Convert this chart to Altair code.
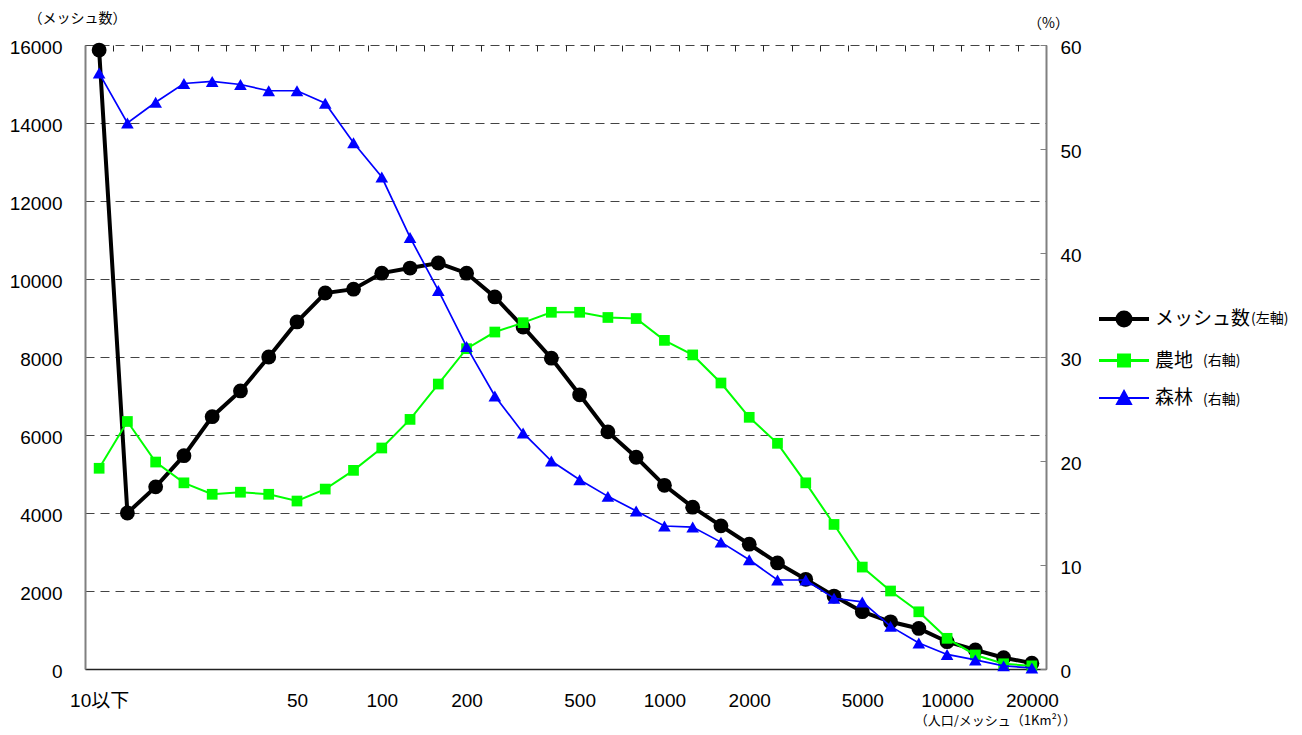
import altair as alt
import pandas as pd

# x categories (population per mesh), tick labels shown only at some categories
LABELS = ["10以下", "", "", "", "", "", "", "50", "", "", "100", "", "", "200", "", "", "",
          "500", "", "", "1000", "", "", "2000", "", "", "", "5000", "", "", "10000", "", "", "20000"]

# メッシュ数 (left axis)
MESH = [15870, 4000, 4670, 5470, 6470, 7130, 8000, 8900, 9640, 9740, 10150, 10280, 10410, 10150,
        9540, 8770, 7970, 7030, 6080, 5430, 4710, 4150, 3670, 3200, 2720, 2300, 1870, 1470,
        1210, 1040, 700, 490, 290, 150]
# 農地 (right axis, %)
FARM = [19.3, 23.8, 19.9, 17.9, 16.8, 17.0, 16.8, 16.15, 17.3, 19.1, 21.25, 24.0, 27.4, 30.8,
        32.4, 33.3, 34.3, 34.3, 33.8, 33.7, 31.6, 30.2, 27.5, 24.2, 21.7, 17.9, 13.9, 9.8,
        7.5, 5.5, 2.95, 1.35, 0.5, 0.3]
# 森林 (right axis, %)
FOREST = [57.3, 52.5, 54.5, 56.3, 56.5, 56.2, 55.6, 55.6, 54.4, 50.6, 47.3, 41.5, 36.4, 31.0,
          26.25, 22.7, 20.0, 18.2, 16.6, 15.2, 13.75, 13.65, 12.2, 10.5, 8.56, 8.56, 6.8, 6.45,
          4.1, 2.5, 1.4, 0.87, 0.3, 0.1]

SERIES = ["メッシュ数", "農地", "森林"]
NOTES = ["(左軸)", "(右軸)", "(右軸)"]
KEYS = ["k0", "k1", "k2"]
COLORS = ["#000000", "#00ff00", "#0000ff"]
LEFT_TICKS = [0, 2000, 4000, 6000, 8000, 10000, 12000, 14000, 16000]
RIGHT_TICKS = [0, 10, 20, 30, 40, 50, 60]

n = len(LABELS)
idx = list(range(n))
df_mesh = pd.DataFrame({"i": idx, "v": MESH})
df_farm = pd.DataFrame({"i": idx, "v": FARM})
df_forest = pd.DataFrame({"i": idx, "v": FOREST})
legend_df = pd.DataFrame({"s": SERIES, "k": KEYS})

W, H = 961, 624
NUM_FONT = "Liberation Sans, Arial, Noto Sans CJK JP, sans-serif"
JP_FONT = "Noto Sans CJK JP, sans-serif"
NUM_SIZE = 19

label_arr = "[" + ",".join("'" + s + "'" for s in LABELS) + "]"
x_dom = [-0.5, n - 0.5]
x_scale = alt.Scale(domain=x_dom, nice=False, zero=False)

x_main = alt.X(
    "i:Q", scale=x_scale,
    axis=alt.Axis(values=idx, labelExpr=label_arr + "[datum.value]", ticks=False, tickSize=0,
                  grid=False, domainColor="#222", domainWidth=1.5, labelFont=NUM_FONT,
                  labelFontSize=NUM_SIZE, labelColor="#000", labelPadding=22, labelOverlap=False,
                  labelFlush=False, labelBound=False,
                  title="（人口/メッシュ（1Km²））", titleX=910, titleY=51, titleAlign="center",
                  titleBaseline="middle", titleFont=JP_FONT, titleFontSize=13,
                  titleFontWeight="normal", titleColor="#000"))
x_ticks = alt.X(
    "i:Q", scale=x_scale,
    axis=alt.Axis(values=[k - 0.5 for k in range(n + 1)], labels=False, domain=False, grid=False,
                  ticks=True, tickSize=6, tickColor="#222", tickWidth=1, offset=-6, title=None))
x_none = alt.X("i:Q", scale=x_scale, axis=None)

y_left = alt.Y(
    "v:Q", scale=alt.Scale(domain=[0, 16000], nice=False),
    axis=alt.Axis(values=LEFT_TICKS, format="d", grid=True, gridDash=[9, 6], gridColor="#444",
                  gridWidth=1, domainColor="#808080", domainWidth=2, ticks=False, tickSize=0,
                  labelPadding=23, labelFont=NUM_FONT, labelFontSize=NUM_SIZE, labelColor="#000",
                  labelOffset=2,
                  title="（メッシュ数）", titleAngle=0, titleX=-8, titleY=-27, titleAlign="center",
                  titleBaseline="middle", titleFont=JP_FONT, titleFontSize=14,
                  titleFontWeight="normal", titleColor="#000"))
y_right = alt.Y(
    "v:Q", scale=alt.Scale(domain=[0, 60], nice=False),
    axis=alt.Axis(orient="right", values=RIGHT_TICKS, grid=False, domainColor="#808080",
                  domainWidth=2, ticks=False, tickSize=0, labelPadding=14, labelFont=NUM_FONT,
                  labelFontSize=NUM_SIZE, labelColor="#000", labelOffset=2,
                  title="（%）", titleAngle=0, titleX=2, titleY=-22, titleAlign="center",
                  titleBaseline="middle", titleFont=JP_FONT, titleFontSize=14,
                  titleFontWeight="normal", titleColor="#000"))
y_right_ticks = alt.Y(
    "v:Q", scale=alt.Scale(domain=[0, 60], nice=False),
    axis=alt.Axis(orient="right", values=RIGHT_TICKS, grid=False, domain=False, labels=False,
                  ticks=True, tickSize=6, tickColor="#808080", tickWidth=1, offset=-6, title=None))

mesh = alt.Chart(df_mesh).mark_line(
    color="#000000", strokeWidth=4,
    point=alt.OverlayMarkDef(filled=True, color="#000000", size=220, shape="circle", opacity=1)
).encode(x=x_main, y=y_left)

farm = alt.Chart(df_farm).mark_line(
    color="#00ff00", strokeWidth=2,
    point=alt.OverlayMarkDef(filled=True, color="#00ff00", size=115, shape="square", opacity=1)
).encode(x=x_ticks, y=y_right)

forest = alt.Chart(df_forest).mark_line(
    color="#0000ff", strokeWidth=1.7,
    point=alt.OverlayMarkDef(filled=True, color="#0000ff", size=160, shape="triangle-up", opacity=1)
).encode(x=x_none, y=y_right_ticks)

PATHS = [
    "M-1,0H1M0.26,0A0.26,0.26,0,1,1,-0.26,0A0.26,0.26,0,1,1,0.26,0Z",
    "M-1,0H1M-0.22,-0.22H0.22V0.22H-0.22Z",
    "M-1,0H1M0,-0.28L0.28,0.24L-0.28,0.24Z",
]

note_expr_2 = ("datum.label == '" + KEYS[1] + "' ? '" + NOTES[1] + "' : '" + NOTES[2] + "'")

leg1 = alt.Legend(title=None, orient="none", legendX=1012, legendY=247, symbolSize=2500,
                  rowPadding=-16, labelFont=JP_FONT, labelFontSize=19, labelColor="#000",
                  labelOffset=4, padding=0, offset=0, symbolOpacity=1)
# notes for rows 2 and 3
leg2 = alt.Legend(title=None, orient="none", legendX=1062, legendY=290, symbolSize=2500,
                  symbolType="M0,0", symbolStrokeWidth=2, rowPadding=6, labelFont=JP_FONT,
                  labelFontSize=14, labelColor="#000", labelOffset=4, padding=0, offset=0,
                  labelExpr=note_expr_2)
# note for row 1
leg3 = alt.Legend(title=None, orient="none", legendX=1166, legendY=274, symbolSize=2500,
                  symbolType="M0,0", symbolStrokeWidth=2, labelFont=JP_FONT,
                  labelFontSize=14, labelColor="#000", labelOffset=4, padding=0, offset=0,
                  labelExpr="'" + NOTES[0] + "'")

legend_layer = alt.Chart(legend_df).transform_filter("false").mark_point(
    filled=True, opacity=1
).encode(
    fill=alt.Fill("s:N", scale=alt.Scale(domain=SERIES, range=COLORS), legend=leg1),
    stroke=alt.Stroke("s:N", scale=alt.Scale(domain=SERIES, range=COLORS), legend=leg1),
    shape=alt.Shape("s:N", scale=alt.Scale(domain=SERIES, range=PATHS), legend=leg1),
    strokeWidth=alt.StrokeWidth("s:N", scale=alt.Scale(domain=SERIES, range=[4, 2, 1.7]), legend=leg1),
    opacity=alt.Opacity("k:N", scale=alt.Scale(domain=KEYS[1:], range=[1, 1]), legend=leg2),
    size=alt.Size("k:O", scale=alt.Scale(domain=KEYS[:1], range=[2500]), legend=leg3),
)

chart = alt.layer(mesh, farm, forest, legend_layer).resolve_scale(
    x="independent", y="independent"
).properties(
    width=W, height=H,
    autosize=alt.AutoSizeParams(type="none"),
    padding={"left": 77, "top": 37, "right": 248, "bottom": 58},
    background="white",
).configure_view(stroke=None)

chart.save("out.html", embed_options={"renderer": "svg", "actions": False})
